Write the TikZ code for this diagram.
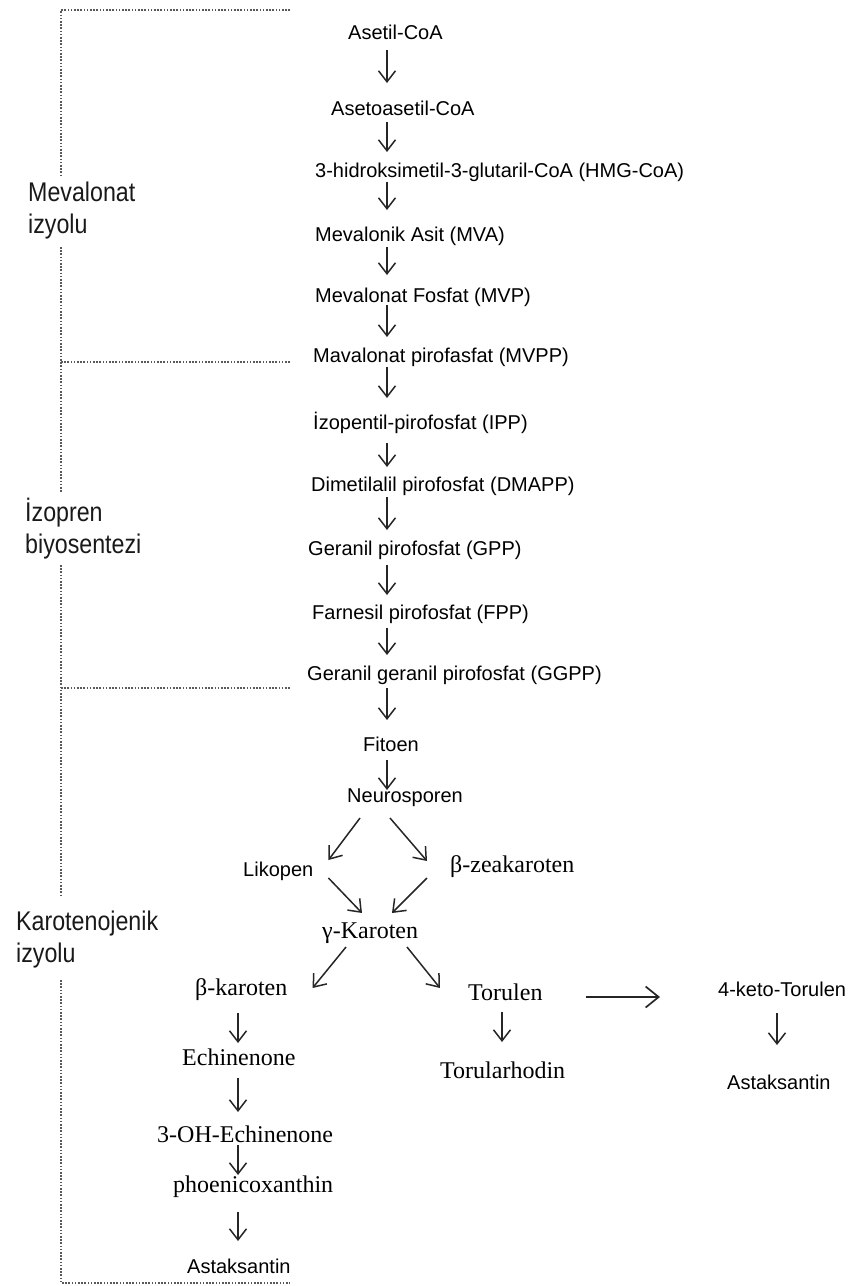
\documentclass[tikz,border=0pt]{standalone}
\usepackage{fontspec}
\setmainfont{Liberation Serif}
\newfontfamily\sansf{Liberation Sans}
\newfontfamily\lblf[FakeStretch=0.86]{Liberation Sans}
\usetikzlibrary{arrows.meta,calc}
\newcommand\vconn[5]{\draw[arr] ($(#1.base -| #3)+(0,#4)$) -- ($(#2.base -| #3)+(0,-#5)$);}
\begin{document}
\begin{tikzpicture}[x=1pt,y=-1pt,
 sn/.style={font=\sansf\fontsize{20}{24}\selectfont, anchor=base west, inner sep=0pt, text=black},
 sr/.style={font=\fontsize{24}{28}\selectfont, anchor=base west, inner sep=0pt, text=black},
 lbl/.style={font=\lblf\fontsize{27}{32}\selectfont, anchor=base west, inner sep=0pt, align=left, text=black!90},
 arr/.style={draw=black!85, line width=1.5pt, -{Straight Barb[length=11pt,width=17pt,line width=1.5pt]}},
 arrh/.style={draw=black!85, line width=1.7pt, -{Straight Barb[length=13pt,width=21pt,line width=1.7pt]}},
 dots/.style={draw=black!65, line width=1.9pt, dash pattern=on 1.6pt off 1.6pt}
]
\useasboundingbox (0,0) rectangle (854,1286);
\coordinate (cx) at (387,0);
\coordinate (lx) at (238,0);
\coordinate (tx) at (502,0);
\coordinate (kx) at (777,0);

% dotted bracket
\draw[dots] (290,10) -- (61,10) -- (61,175);
\draw[dots] (61,247) -- (61,492);
\draw[dots] (61,362) -- (290,362);
\draw[dots] (61,565) -- (61,895);
\draw[dots] (61,688) -- (290,688);
\draw[dots] (61,980) -- (61,1283) -- (290,1283);

% labels (base anchor = last line)
\node[lbl] (l1) at (28,233) {Mevalonat\\izyolu};
\node[lbl] (l2) at (25,553) {İzopren\\biyosentezi};
\node[lbl] (l3) at (16,962) {Karotenojenik\\izyolu};

% main column
\node[sn] (acoa) at (348,39) {Asetil-CoA};
\node[sn] (aacoa) at (331,115) {Asetoasetil-CoA};
\node[sn] (hmg) at (315,177) {3-hidroksimetil-3-glutaril-CoA (HMG-CoA)};
\node[sn] (mva) at (315,241) {Mevalonik Asit (MVA)};
\node[sn] (mvp) at (315,302) {Mevalonat Fosfat (MVP)};
\node[sn] (mvpp) at (313,362) {Mavalonat pirofasfat (MVPP)};
\node[sn] (ipp) at (313,429) {İzopentil-pirofosfat (IPP)};
\node[sn] (dmapp) at (311,491) {Dimetilalil pirofosfat (DMAPP)};
\node[sn] (gpp) at (308,555) {Geranil pirofosfat (GPP)};
\node[sn] (fpp) at (312,619) {Farnesil pirofosfat (FPP)};
\node[sn] (ggpp) at (307,680) {Geranil geranil pirofosfat (GGPP)};
\node[sn] (fit) at (363,751) {Fitoen};
\node[sn] (neu) at (347,802) {Neurosporen};
\node[sn] (lik) at (243,876) {Likopen};
\node[sr] (bze) at (450,872) {β-zeakaroten};
\node[sr] (gka) at (322,938) {γ-Karoten};
\node[sr] (bka) at (195,995) {β-karoten};
\node[sr] (tor) at (468,1000) {Torulen};
\node[sn] (ktor) at (718,996) {4-keto-Torulen};
\node[sr] (ech) at (182,1065) {Echinenone};
\node[sr] (oh) at (157,1142) {3-OH-Echinenone};
\node[sr] (pho) at (173,1192) {phoenicoxanthin};
\node[sn] (ast1) at (187,1273) {Astaksantin};
\node[sr] (trh) at (440,1078) {Torularhodin};
\node[sn] (ast2) at (727,1089) {Astaksantin};

% vertical arrows
\vconn{acoa}{aacoa}{cx}{11}{32}
\vconn{aacoa}{hmg}{cx}{7}{25}
\vconn{hmg}{mva}{cx}{5}{31}
\vconn{mva}{mvp}{cx}{6}{27}
\vconn{mvp}{mvpp}{cx}{3}{25}
\vconn{mvpp}{ipp}{cx}{5}{31}
\vconn{ipp}{dmapp}{cx}{14}{24}
\vconn{dmapp}{gpp}{cx}{6}{25}
\vconn{gpp}{fpp}{cx}{10}{24}
\vconn{fpp}{ggpp}{cx}{9}{25}
\vconn{ggpp}{fit}{cx}{8}{31}
\vconn{fit}{neu}{cx}{9}{12}
\vconn{bka}{ech}{lx}{18}{22}
\vconn{ech}{oh}{lx}{13}{30}
\vconn{oh}{pho}{lx}{3}{17}
\vconn{pho}{ast1}{lx}{20}{32}
\vconn{tor}{trh}{tx}{12}{36}
\vconn{ktor}{ast2}{kx}{17}{44}

% diagonal arrows
\draw[arr] ($(neu.base west)+(13,16)$) -- ($(lik.base east)+(15,-16)$);
\draw[arr] ($(neu.base west)+(43,16)$) -- ($(bze.base west)+(-23,-11)$);
\draw[arr] ($(lik.base east)+(15,2)$) -- ($(gka.base west)+(40,-25)$);
\draw[arr] ($(bze.base west)+(-23,6)$) -- ($(gka.base west)+(70,-25)$);
\draw[arr] ($(gka.base west)+(24,9)$) -- ($(bka.base east)+(25,-7)$);
\draw[arr] ($(gka.base west)+(85,9)$) -- ($(tor.base west)+(-28,-12)$);
\draw[arrh] ($(tor.base east)+(43,-3)$) -- ($(ktor.base west)+(-58,1)$);
\end{tikzpicture}
\end{document}
